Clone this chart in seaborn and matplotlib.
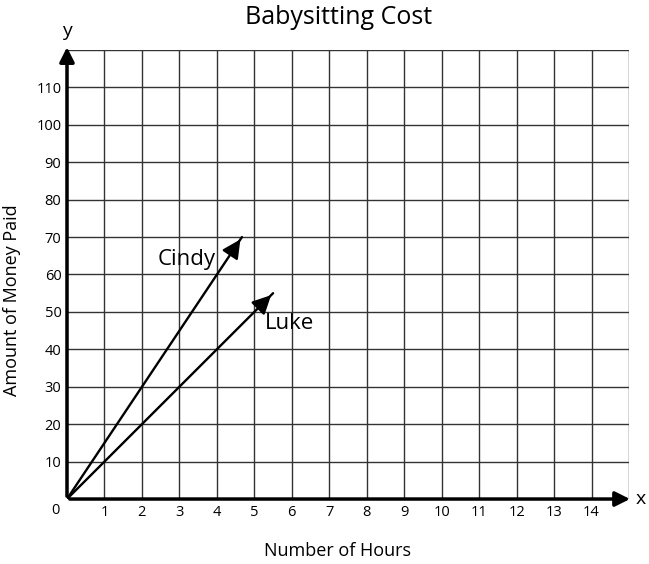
import seaborn as sns
import matplotlib.pyplot as plt
import pandas as pd

# Data
hours = [0, 4.67]
cindy_paid = [0, 70]
luke_hours = [0, 5.5]
luke_paid = [0, 55]
x_ticks = list(range(0, 16))
y_ticks = list(range(0, 130, 10))

df = pd.concat([
    pd.DataFrame({'Hours': hours, 'Paid': cindy_paid, 'Name': 'Cindy'}),
    pd.DataFrame({'Hours': luke_hours, 'Paid': luke_paid, 'Name': 'Luke'}),
])

sns.set_style("white")
plt.rcParams['font.family'] = ['Open Sans', 'DejaVu Sans']
plt.rcParams['text.color'] = 'black'
plt.rcParams['xtick.color'] = 'black'
plt.rcParams['ytick.color'] = 'black'

fig = plt.figure(figsize=(6.49, 5.64), dpi=100)
ax = fig.add_axes([0.1032, 0.1152, 0.866, 0.7962])

sns.lineplot(data=df, x='Hours', y='Paid', hue='Name', palette=['black', 'black'],
             linewidth=1.7, legend=False, ax=ax, zorder=3)
ax.set_xlabel('')
ax.set_ylabel('')

# arrowheads at the ends of each line
for name, g in df.groupby('Name'):
    xs, ys = g['Hours'].to_numpy(), g['Paid'].to_numpy()
    ax.annotate('', xy=(xs[-1], ys[-1]), xytext=(xs[-1] * 0.95, ys[-1] * 0.95),
                arrowprops=dict(arrowstyle='-|>', color='black', lw=1.7, mutation_scale=28), zorder=4)

ax.text(3.2, 64, 'Cindy', fontsize=16, ha='center', va='center')
ax.text(5.95, 47, 'Luke', fontsize=16, ha='center', va='center')

ax.set_xlim(0, 15)
ax.set_ylim(0, 120)
ax.set_xticks(x_ticks)
ax.set_xticklabels(['' if (t == 0 or t == 15) else str(t) for t in x_ticks], fontsize=10.5)
ax.set_yticks(y_ticks)
ax.set_yticklabels(['' if (t == 0 or t == 120) else str(t) for t in y_ticks], fontsize=10.5)
ax.tick_params(length=0, pad=4)
ax.grid(True, color='#333333', linewidth=1)
ax.set_axisbelow(True)

for s in ax.spines.values():
    s.set_visible(False)

# axis arrows
ax.annotate('', xy=(15.1, 0), xytext=(0, 0),
            arrowprops=dict(arrowstyle='-|>', color='black', lw=2.5, mutation_scale=22),
            annotation_clip=False)
ax.annotate('', xy=(0, 121.5), xytext=(0, 0),
            arrowprops=dict(arrowstyle='-|>', color='black', lw=2.5, mutation_scale=22),
            annotation_clip=False)
ax.text(15.3, 0, 'x', fontsize=14, ha='center', va='center')
ax.text(0, 125, 'y', fontsize=14, ha='center', va='center')
ax.text(-0.32, -3, '0', fontsize=10.5, ha='center', va='center')

fig.text(337 / 649, 1 - 551 / 564, 'Number of Hours', fontsize=13, ha='center', va='center')
fig.text(12 / 649, 1 - 300 / 564, 'Amount of Money Paid', fontsize=13, ha='center', va='center',
         rotation=90)
fig.text(339 / 649, 1 - 17 / 564, 'Babysitting Cost', fontsize=18, ha='center', va='center')

fig.savefig('out.png', dpi=100, facecolor='white')
